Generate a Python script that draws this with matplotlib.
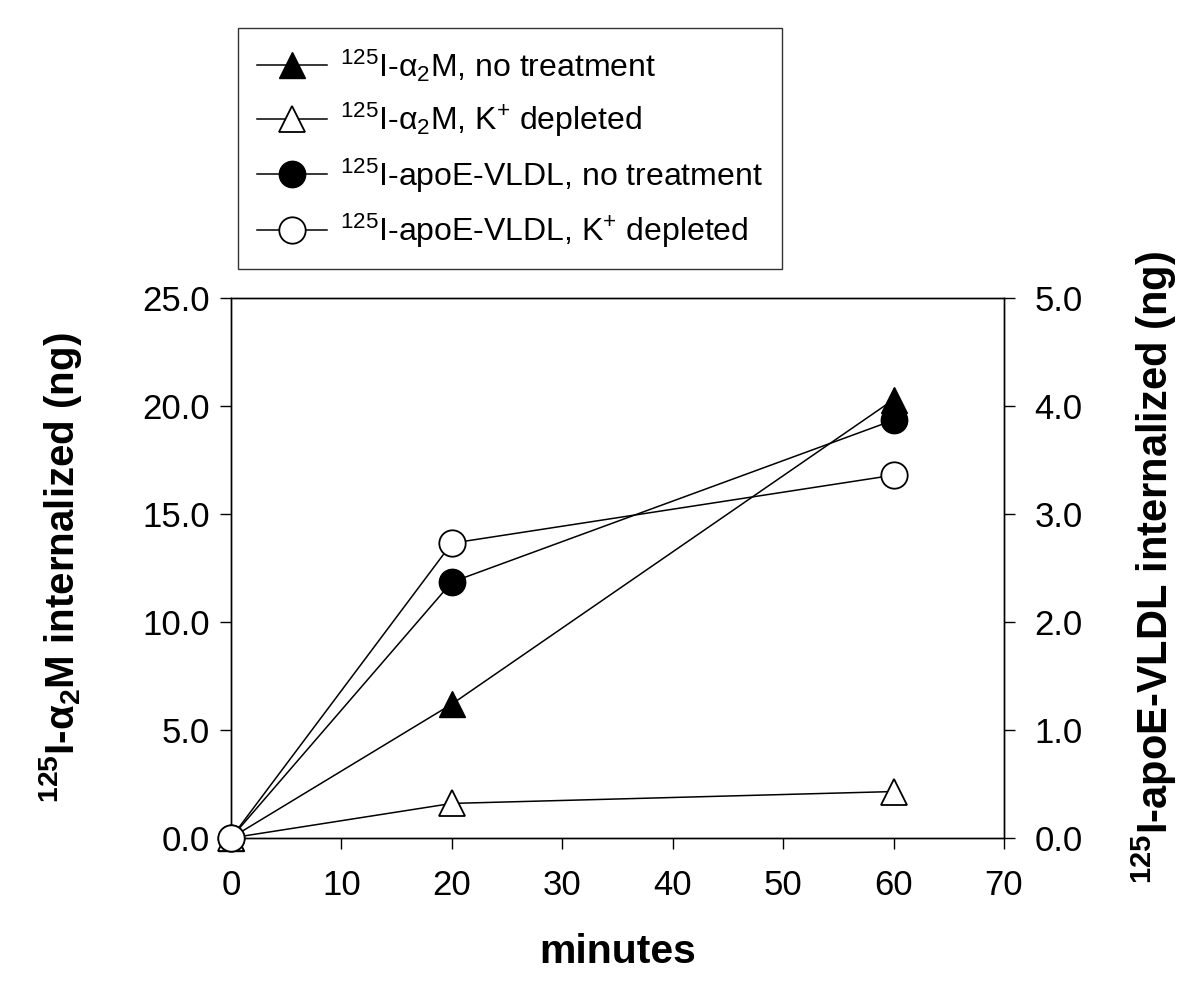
import matplotlib
matplotlib.use("Agg")
import matplotlib.pyplot as plt
from matplotlib.ticker import FormatStrFormatter

plt.rcParams['font.family'] = ['Liberation Sans', 'DejaVu Sans']
plt.rcParams['mathtext.fontset'] = 'custom'
plt.rcParams['mathtext.rm'] = 'Liberation Sans'
plt.rcParams['mathtext.it'] = 'Liberation Sans'
plt.rcParams['mathtext.bf'] = 'Liberation Sans:bold'
plt.rcParams['mathtext.sf'] = 'Liberation Sans'
plt.rcParams['mathtext.default'] = 'regular'

minutes = [0, 20, 60]
a2m_no_treatment = [0.0, 6.2, 20.3]
a2m_k_depleted = [0.0, 1.6, 2.15]
vldl_no_treatment = [0.0, 2.37, 3.87]
vldl_k_depleted = [0.0, 2.73, 3.36]

labels = [r'$^{125}$I-$\alpha_2$M, no treatment',
          r'$^{125}$I-$\alpha_2$M, K$^{+}$ depleted',
          r'$^{125}$I-apoE-VLDL, no treatment',
          r'$^{125}$I-apoE-VLDL, K$^{+}$ depleted']

fig = plt.figure(figsize=(12, 9.97), dpi=100)
ax = fig.add_axes([0.1925, 0.1595, 0.6442, 0.5415])
ax2 = ax.twinx()

ms = 19
lw = 1.1
h1, = ax.plot(minutes, a2m_no_treatment, color='black', lw=lw, marker='^', ms=ms,
              mfc='black', mec='black', clip_on=False, zorder=5)
h2, = ax.plot(minutes, a2m_k_depleted, color='black', lw=lw, marker='^', ms=ms,
              mfc='white', mec='black', mew=1.3, clip_on=False, zorder=5)
h3, = ax2.plot(minutes, vldl_no_treatment, color='black', lw=lw, marker='o', ms=ms,
               mfc='black', mec='black', clip_on=False, zorder=5)
h4, = ax2.plot(minutes, vldl_k_depleted, color='black', lw=lw, marker='o', ms=ms,
               mfc='white', mec='black', mew=1.3, clip_on=False, zorder=5)

ax.set_xlim(0, 70)
ax.set_ylim(0, 25)
ax2.set_ylim(0, 5)
ax.set_xticks(range(0, 71, 10))
ax.set_yticks([0, 5, 10, 15, 20, 25])
ax2.set_yticks([0, 1, 2, 3, 4, 5])
ax.yaxis.set_major_formatter(FormatStrFormatter('%.1f'))
ax2.yaxis.set_major_formatter(FormatStrFormatter('%.1f'))

for a in (ax, ax2):
    a.tick_params(direction='out', length=8, width=1, labelsize=25, colors='black')
    for s in a.spines.values():
        s.set_linewidth(1.0)
ax.tick_params(axis='y', pad=7)
ax.tick_params(axis='x', pad=14)
ax2.tick_params(axis='y', pad=14)

ax.set_xlabel('minutes', fontsize=29.5, fontweight='bold', labelpad=23)
ax.set_ylabel(r'$\mathbf{^{125}}$I-$\mathbf{\alpha_2}$M internalized (ng)',
              fontsize=29, fontweight='bold', labelpad=42)
ax2.set_ylabel(r'$\mathbf{^{125}}$I-apoE-VLDL internalized (ng)',
               fontsize=30, fontweight='bold', labelpad=34, rotation=90)

leg = fig.legend([h1, h2, h3, h4], labels, loc='upper left',
                 bbox_to_anchor=(238 / 1200, 1 - 28 / 997), borderaxespad=0,
                 fontsize=23, frameon=True, fancybox=False, edgecolor='black',
                 handlelength=2.2, handletextpad=0.4, labelspacing=0.54,
                 borderpad=0.6, markerscale=1.0)
leg.get_frame().set_linewidth(1.0)

fig.savefig('out.png', dpi=100)
